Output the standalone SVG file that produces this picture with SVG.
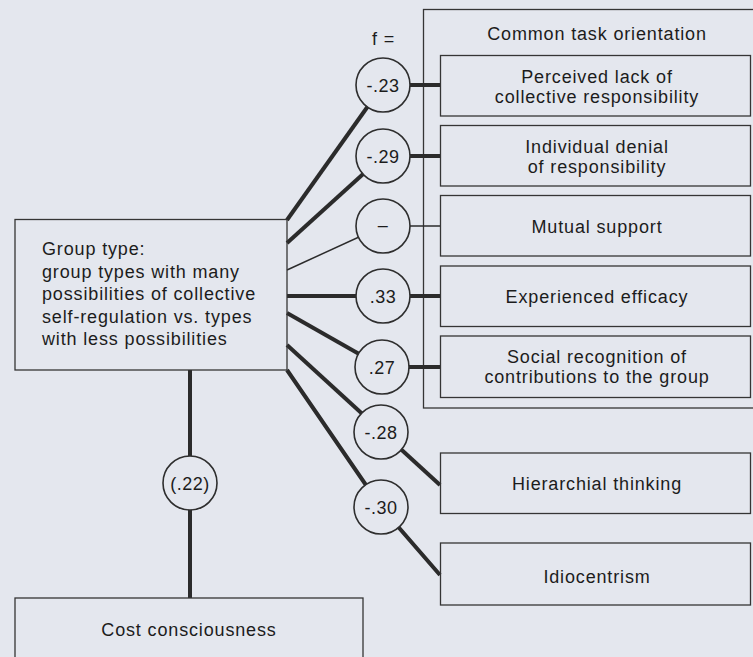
<svg xmlns="http://www.w3.org/2000/svg" width="753" height="657" viewBox="0 0 753 657">
  <style>
    .bg { fill: #e4e7ee; }
    .box { fill: none; stroke: #353535; stroke-width: 1.3; }
    .node { fill: #e4e7ee; stroke: #2e2e2e; stroke-width: 1.6; }
    .t { font-family: "Liberation Sans", Arial, sans-serif; font-size: 18px; letter-spacing: 0.85px; fill: #1c1c1c; }
    .c { text-anchor: middle; }
    .lbl { font-family: "Liberation Sans", Arial, sans-serif; font-size: 18px; letter-spacing: 0.5px; fill: #1c1c1c; text-anchor: middle; }
    .thick { stroke: #2b2b2b; stroke-width: 4; fill: none; }
    .thin { stroke: #2b2b2b; stroke-width: 1.5; fill: none; }
  </style>
  <rect class="bg" x="0" y="0" width="753" height="657"/>

  <!-- frame around the common task orientation factors -->
  <g id="common-task-orientation">
    <rect class="box" x="423.5" y="9.5" width="340" height="398.5"/>
    <text class="t c" x="597" y="40">Common task orientation</text>
  </g>

  <text class="t" x="372" y="45">f =</text>

  <!-- connectors -->
  <g id="connectors">
    <line class="thick" x1="287" y1="220" x2="383" y2="85"/>
    <line class="thick" x1="287" y1="243" x2="383" y2="156"/>
    <line class="thin" x1="287" y1="270" x2="383" y2="226"/>
    <line class="thick" x1="287" y1="296" x2="383" y2="296"/>
    <line class="thick" x1="287" y1="313" x2="382" y2="367"/>
    <line class="thick" x1="287" y1="345" x2="440" y2="485"/>
    <polyline class="thick" points="287,370 381,507 440,575"/>
    <line class="thick" x1="383" y1="85" x2="441" y2="85"/>
    <line class="thick" x1="383" y1="156" x2="441" y2="156"/>
    <line class="thin" x1="383" y1="226" x2="441" y2="226"/>
    <line class="thick" x1="383" y1="296" x2="441" y2="296"/>
    <line class="thick" x1="382" y1="367" x2="441" y2="367"/>
    <line class="thick" x1="190" y1="370" x2="190" y2="598"/>
  </g>

  <!-- coefficient circles -->
  <g id="coef-n23"><circle class="node" cx="383" cy="85" r="27"/><text class="lbl" x="383" y="91.5">-.23</text></g>
  <g id="coef-n29"><circle class="node" cx="383" cy="156" r="27"/><text class="lbl" x="383" y="162.5">-.29</text></g>
  <g id="coef-none"><circle class="node" cx="383" cy="226" r="27"/><text class="lbl" x="383" y="231">–</text></g>
  <g id="coef-33"><circle class="node" cx="383" cy="296" r="27"/><text class="lbl" x="383" y="302.5">.33</text></g>
  <g id="coef-27"><circle class="node" cx="382" cy="367" r="27"/><text class="lbl" x="382" y="373.5">.27</text></g>
  <g id="coef-n28"><circle class="node" cx="381" cy="432" r="27"/><text class="lbl" x="381" y="438.5">-.28</text></g>
  <g id="coef-n30"><circle class="node" cx="381" cy="507" r="27"/><text class="lbl" x="381" y="513.5">-.30</text></g>
  <g id="coef-22"><circle class="node" cx="190" cy="483" r="27"/><text class="lbl" x="190" y="489.5">(.22)</text></g>

  <!-- source node -->
  <g id="group-type">
    <rect class="box" x="15" y="219.5" width="272" height="150.5"/>
    <text class="t" x="42" y="255">Group type:</text>
    <text class="t" x="42" y="277.5">group types with many</text>
    <text class="t" x="42" y="300">possibilities of collective</text>
    <text class="t" x="42" y="322.5">self-regulation vs. types</text>
    <text class="t" x="42" y="345">with less possibilities</text>
  </g>

  <!-- outcome nodes -->
  <g id="perceived-lack">
    <rect class="box" x="440.5" y="55.5" width="310" height="60.5"/>
    <text class="t c" x="597" y="83">Perceived lack of</text>
    <text class="t c" x="597" y="103">collective responsibility</text>
  </g>
  <g id="individual-denial">
    <rect class="box" x="440.5" y="125.5" width="310" height="60.5"/>
    <text class="t c" x="597" y="153">Individual denial</text>
    <text class="t c" x="597" y="173">of responsibility</text>
  </g>
  <g id="mutual-support">
    <rect class="box" x="440.5" y="195.5" width="310" height="60.5"/>
    <text class="t c" x="597" y="233">Mutual support</text>
  </g>
  <g id="experienced-efficacy">
    <rect class="box" x="440.5" y="266" width="310" height="60.5"/>
    <text class="t c" x="597" y="303">Experienced efficacy</text>
  </g>
  <g id="social-recognition">
    <rect class="box" x="440.5" y="336" width="310" height="61.5"/>
    <text class="t c" x="597" y="363">Social recognition of</text>
    <text class="t c" x="597" y="383">contributions to the group</text>
  </g>
  <g id="hierarchial-thinking">
    <rect class="box" x="440.5" y="453" width="310" height="60.5"/>
    <text class="t c" x="597" y="490">Hierarchial thinking</text>
  </g>
  <g id="idiocentrism">
    <rect class="box" x="440.5" y="543" width="310" height="62"/>
    <text class="t c" x="597" y="583">Idiocentrism</text>
  </g>
  <g id="cost-consciousness">
    <rect class="box" x="15" y="598" width="348" height="70"/>
    <text class="t c" x="189" y="636">Cost consciousness</text>
  </g>
</svg>
